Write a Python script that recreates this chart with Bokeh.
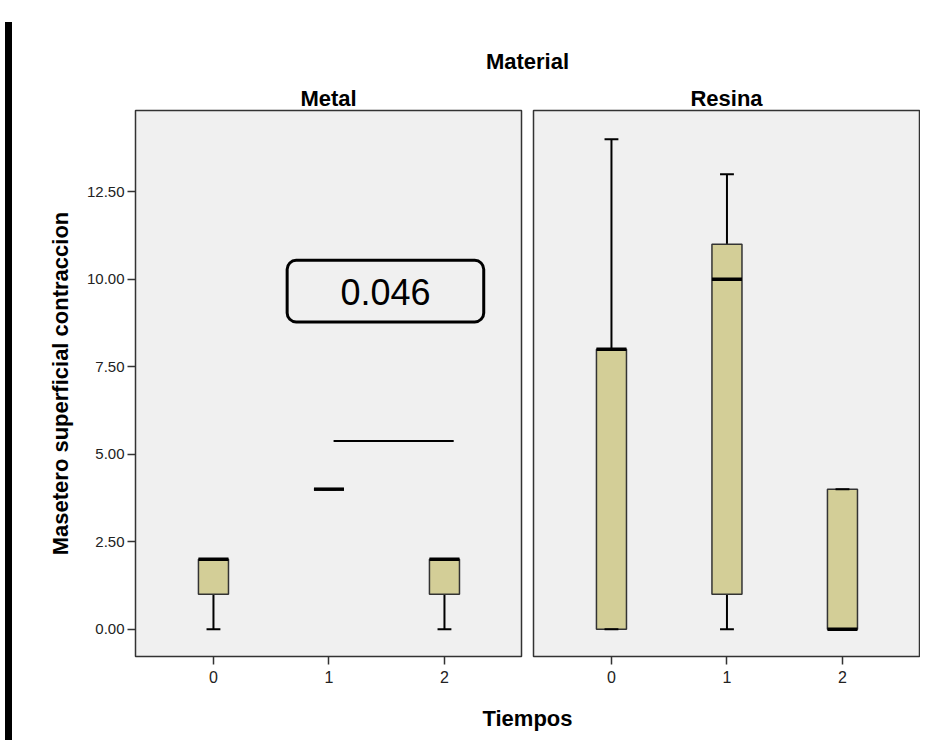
from bokeh.plotting import figure
from bokeh.models import Range1d, FixedTicker, PrintfTickFormatter, BoxAnnotation, Div
from bokeh.layouts import row, column
from bokeh.core.properties import value
from bokeh.embed import file_html
from bokeh.resources import INLINE

FONT = "Liberation Sans"

# ---- data ----
tiempos = ["0", "1", "2"]
materials = ["Metal", "Resina"]

metal_min = [0, 4, 0]
metal_q1 = [1, 4, 1]
metal_med = [2, 4, 2]
metal_q3 = [2, 4, 2]
metal_max = [2, 4, 2]

resina_min = [0, 0, 0]
resina_q1 = [0, 1, 0]
resina_med = [8, 10, 0]
resina_q3 = [8, 11, 4]
resina_max = [14, 13, 4]

y_ticks = [0, 2.5, 5, 7.5, 10, 12.5]

# annotation in Metal panel
sig_text = "0.046"
sig_line_x = [1.04, 2.08]
sig_line_y = [5.38, 5.38]
sig_box = dict(left=0.638, right=2.34, bottom=8.78, top=10.54)
sig_text_pos = (1.49, 9.64)

BOX_W = 0.26
CAP_W = 0.12

yr = Range1d(-0.78, 14.82)


def make_panel(title, mins, q1s, meds, q3s, maxs, width, bl, br, show_y):
    p = figure(width=width, height=612,
               x_range=Range1d(-0.675, 2.667), y_range=yr,
               output_backend="svg", toolbar_location=None,
               min_border_left=bl, min_border_right=br,
               min_border_top=32, min_border_bottom=34,
               y_axis_location="left" if show_y else None,
               background_fill_color="#f0f0f0", border_fill_color="white",
               outline_line_color="#333333", outline_line_width=1.5)
    p.title.text = title
    p.title.align = "center"
    p.title.text_font = FONT
    p.title.text_font_size = "22px"
    p.title.text_font_style = "bold"
    p.title.text_color = "black"
    p.title.standoff = 0
    p.xgrid.visible = False
    p.ygrid.visible = False

    xs = list(range(len(tiempos)))
    p.xaxis.ticker = FixedTicker(ticks=xs)
    p.xaxis.major_label_overrides = {i: t for i, t in enumerate(tiempos)}
    for ax in p.axis:
        ax.minor_tick_line_color = None
        ax.major_tick_in = 0
        ax.major_tick_out = 8
        ax.major_tick_line_color = "#333333"
        ax.major_tick_line_width = 1.5
        ax.axis_line_color = "#333333"
        ax.major_label_text_font = FONT
        ax.major_label_text_font_size = "15px"
        ax.major_label_text_color = "#222222"
        ax.major_label_standoff = 3
    p.xaxis.major_label_text_font_size = "16px"
    p.xaxis.major_label_standoff = 6
    if show_y:
        p.yaxis.ticker = FixedTicker(ticks=y_ticks)
        p.yaxis.formatter = PrintfTickFormatter(format="%.2f")
        p.yaxis.axis_label = "Masetero superficial contraccion"
        p.yaxis.axis_label_text_font = FONT
        p.yaxis.axis_label_text_font_size = "22px"
        p.yaxis.axis_label_text_font_style = "bold"
        p.yaxis.axis_label_text_color = "black"
        p.yaxis.axis_label_standoff = 11

    # whiskers
    p.segment(x0=xs, y0=q3s, x1=xs, y1=maxs, line_color="black", line_width=2)
    p.segment(x0=xs, y0=q1s, x1=xs, y1=mins, line_color="black", line_width=2)
    # boxes
    p.vbar(x=xs, bottom=q1s, top=q3s, width=BOX_W, fill_color="#d3ce97",
           line_color="#333333", line_width=1.5)
    # caps
    p.segment(x0=[x - CAP_W / 2 for x in xs], y0=maxs,
              x1=[x + CAP_W / 2 for x in xs], y1=maxs, line_color="black", line_width=2)
    p.segment(x0=[x - CAP_W / 2 for x in xs], y0=mins,
              x1=[x + CAP_W / 2 for x in xs], y1=mins, line_color="black", line_width=2)
    # medians
    p.segment(x0=[x - BOX_W / 2 for x in xs], y0=meds,
              x1=[x + BOX_W / 2 for x in xs], y1=meds, line_color="black", line_width=3.5)
    return p


p1 = make_panel(materials[0], metal_min, metal_q1, metal_med, metal_q3, metal_max,
                510, 118, 6, True)
p2 = make_panel(materials[1], resina_min, resina_q1, resina_med, resina_q3, resina_max,
                393, 6, 1, False)

# significance annotation
p1.line(x=sig_line_x, y=sig_line_y, line_color="black", line_width=2)
p1.add_layout(BoxAnnotation(line_color="black", line_alpha=1.0, line_width=3,
                            fill_alpha=0, border_radius=9, **sig_box))
p1.text(x=[sig_text_pos[0]], y=[sig_text_pos[1]], text=[sig_text],
        text_font=value(FONT), text_font_size="36px", text_align="center",
        text_baseline="middle", text_color="black")


def text_strip(height, label, ypos):
    f = figure(width=903, height=height, x_range=Range1d(0, 903), y_range=Range1d(0, height),
               output_backend="svg", toolbar_location=None,
               x_axis_location=None, y_axis_location=None,
               min_border=0, outline_line_color=None, border_fill_color="white",
               background_fill_color="white")
    f.xgrid.visible = False
    f.ygrid.visible = False
    f.text(x=[510], y=[ypos], text=[label], text_font=value(FONT),
           text_font_style="bold", text_font_size="22px", text_align="center",
           text_baseline="middle", text_color="black")
    return f


top = text_strip(61, "Material", 16.8)
bottom = text_strip(45, "Tiempos", 17.5)

top_gap = Div(width=910, height=7, styles={"background-color": "white"})
left_band = Div(width=7, height=718, styles={"background-color": "black"})

layout = column(top_gap, row(left_band, column(top, row(p1, p2), bottom)))

open("out.html", "w").write(file_html(layout, INLINE))
